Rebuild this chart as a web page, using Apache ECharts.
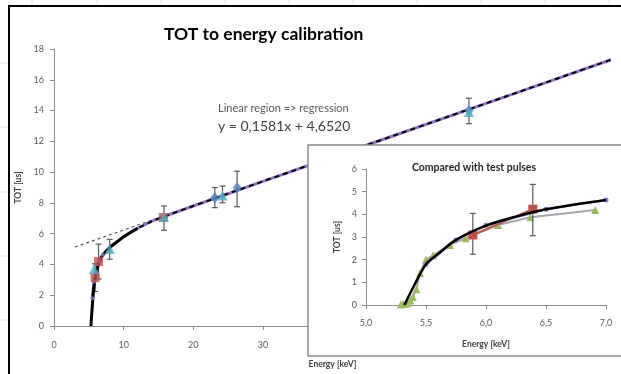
<!DOCTYPE html>
<html><head><meta charset="utf-8">
<script src="https://cdn.jsdelivr.net/npm/echarts@6/dist/echarts.min.js"></script>
<style>html,body{margin:0;padding:0;background:#fff}#c{width:621px;height:374px}</style>
</head><body><div id="c"></div>
<script>
// ---- main chart data ----
const mainFit = [[5.3,0],[5.5,1.3],[5.7,2.4],[5.9,3.05],[6.2,3.7],[6.5,4.2],[7,4.6],[8,5.1],[9,5.45],[10,5.8],[12,6.35]];
const mainModel = [[5.5,1.8],[5.75,2.87],[6,3.5],[6.5,4.2],[7,4.63],[8,5.1],[10,5.8],[12,6.35],[14,6.8],[16,7.15],[20,7.8],[30,9.4],[40,10.98],[50,12.56],[60,14.14],[70,15.72],[80,17.3]];
const modelDots = [[5.5,1.8],[5.75,2.87],[6,3.5],[6.5,4.2],[7,4.63]];
const regression = [[3,5.13],[80,17.3]];
const redMain = [[5.9,3.14],[6.4,4.19],[15.7,7.05]];
const redMainErr = [[5.9,2.24,4.04],[6.4,3.06,5.32]];
const cyanMain = [[5.75,3.7],[8.0,5.0],[15.8,7.1],[24.2,8.48],[59.6,13.9]];
const cyanMainErr = [[8.0,4.34,5.63],[15.8,6.22,7.8],[24.2,8.01,9.09],[59.6,13.15,14.8]];
const blueMain = [[23.1,8.33],[26.3,8.98],[59.6,14.0]];
const blueMainErr = [[23.1,7.69,9.0],[26.3,7.75,10.06]];
// ---- inset data ----
const insetFit = [[5.32,0],[5.4,0.85],[5.5,1.8],[5.6,2.25],[5.75,2.87],[6,3.5],[6.25,3.9],[6.5,4.22],[7,4.63]];
const insetModel = [[5.5,1.8],[5.75,2.87],[6,3.52],[6.5,4.22],[7,4.63]];
const testPulses = [[5.29,0.02],[5.31,0.04],[5.33,0.06],[5.35,0.1],[5.37,0.2],[5.39,0.35],[5.42,0.7],[5.45,1.4],[5.5,2.0],[5.56,2.2],[5.7,2.65],[5.83,2.95],[6.1,3.53],[6.37,3.87],[6.91,4.19]];
const redInset = [[5.89,3.09],[6.39,4.23]];
const redInsetErr = [[5.89,2.24,4.04],[6.39,3.06,5.32]];

const FONT = 'Lato, "Open Sans", sans-serif';
const RED='#c0504d', CYAN='#4bacc6', BLUE='#4f81bd', GREEN='#9bbb59', PURPLE='#9272c8';

function errSeries(data, xi, yi, z){
  return {type:'custom', xAxisIndex:xi, yAxisIndex:yi, z:z, data:data, silent:true,
    encode:{x:0,y:[1,2]},
    renderItem:function(params, api){
      const x=api.value(0), lo=api.value(1), hi=api.value(2);
      const a=api.coord([x,lo]), b=api.coord([x,hi]);
      const w=3, st={stroke:'#595959', lineWidth:1.2};
      return {type:'group', children:[
        {type:'line', shape:{x1:a[0],y1:a[1],x2:b[0],y2:b[1]}, style:st},
        {type:'line', shape:{x1:a[0]-w,y1:a[1],x2:a[0]+w,y2:a[1]}, style:st},
        {type:'line', shape:{x1:b[0]-w,y1:b[1],x2:b[0]+w,y2:b[1]}, style:st}
      ]};
    }};
}
const axisLbl = {color:'#595959', fontSize:9, fontFamily:FONT};
const axLine = {lineStyle:{color:'#8c8c8c', width:1}};
const axTick = {show:true, length:4, lineStyle:{color:'#8c8c8c'}};

const bgLines = [];
[32,97,161,225,289,353,417,481,545,609].forEach(x=>bgLines.push({type:'line', shape:{x1:x,y1:0,x2:x,y2:5}, style:{stroke:'#dce3f0',lineWidth:1}}));
[63,127,192,256,320].forEach(y=>bgLines.push({type:'line', shape:{x1:0,y1:y,x2:8,y2:y}, style:{stroke:'#dce3f0',lineWidth:1}}));

const chart = echarts.init(document.getElementById('c'), null, {renderer:'canvas'});
chart.setOption({
  animation:false,
  backgroundColor:'#fff',
  textStyle:{fontFamily:FONT},
  title:[
    {text:'TOT to energy calibration', left:159, top:20, textStyle:{fontSize:17.5, fontWeight:'bold', color:'#000', fontFamily:FONT}},
    {text:'Compared with test pulses', left:469, textAlign:'center', top:157, z:12, textStyle:{fontSize:10.5, fontWeight:'bold', color:'#262626', fontFamily:FONT}}
  ],
  grid:[
    {left:54, top:49, right:10, bottom:47},
    {left:366, top:169, right:15, bottom:69, z:10}
  ],
  xAxis:[
    {type:'value', gridIndex:0, min:0, max:80, interval:10, axisLine:axLine, axisTick:axTick,
     axisLabel:Object.assign({margin:15}, axisLbl), splitLine:{show:false},
     name:'Energy [keV]', nameLocation:'middle', nameGap:34,
     nameTextStyle:{fontSize:8.5, fontWeight:'bold', color:'#404040', fontFamily:FONT}},
    {type:'value', gridIndex:1, min:5, max:7, interval:0.5, z:10, axisLine:axLine, axisTick:axTick,
     axisLabel:Object.assign({margin:14, formatter:v=>v.toFixed(1).replace('.',',')}, axisLbl), splitLine:{show:false},
     name:'Energy [keV]', nameLocation:'middle', nameGap:35,
     nameTextStyle:{fontSize:8.5, fontWeight:'bold', color:'#404040', fontFamily:FONT}}
  ],
  yAxis:[
    {type:'value', gridIndex:0, min:0, max:18, interval:2, axisLine:Object.assign({show:true},axLine), axisTick:axTick,
     axisLabel:Object.assign({margin:10}, axisLbl), splitLine:{show:false},
     name:'TOT [us]', nameLocation:'middle', nameGap:31, nameRotate:90,
     nameTextStyle:{fontSize:8.5, fontWeight:'bold', color:'#404040', fontFamily:FONT}},
    {type:'value', gridIndex:1, min:0, max:6, interval:1, z:10, axisLine:Object.assign({show:true},axLine), axisTick:axTick,
     axisLabel:Object.assign({margin:9}, axisLbl), splitLine:{show:false},
     name:'TOT [us]', nameLocation:'middle', nameGap:24, nameRotate:90,
     nameTextStyle:{fontSize:8.5, fontWeight:'bold', color:'#404040', fontFamily:FONT}}
  ],
  graphic:{elements:[].concat(bgLines, [
    {type:'polyline', z:1, shape:{points:[[9,380],[9,6],[630,6]]}, style:{stroke:'#000', lineWidth:2, fill:null}},
    {type:'text', left:218, top:103, z:3, style:{text:'Linear region => regression', fontSize:11, fill:'#595959', fontFamily:FONT}},
    {type:'text', left:218, top:119, z:3, style:{text:'y = 0,1581x + 4,6520', fontSize:14, fill:'#404040', fontFamily:FONT}},
    {type:'rect', z:5, shape:{x:308, y:145, width:330, height:211}, style:{fill:'#fff', stroke:'#8c8c8c', lineWidth:1.5}}
  ])},
  series:[
    {type:'line', xAxisIndex:0, yAxisIndex:0, data:regression, showSymbol:false, z:2,
     lineStyle:{color:'#595959', width:1.2, type:[3,3]}},
    {type:'line', xAxisIndex:0, yAxisIndex:0, data:mainModel, showSymbol:false, z:2,
     lineStyle:{color:PURPLE, width:3}},
    {type:'line', xAxisIndex:0, yAxisIndex:0, data:mainFit, showSymbol:false, z:3, smooth:0.3,
     lineStyle:{color:'#000', width:3}},
    {type:'line', xAxisIndex:0, yAxisIndex:0, data:mainModel.slice(5), showSymbol:false, z:3,
     lineStyle:{color:'#000', width:2, type:[5,4]}},
    {type:'scatter', xAxisIndex:0, yAxisIndex:0, data:modelDots, symbol:'circle', symbolSize:4, z:3, itemStyle:{color:PURPLE}},
    errSeries(redMainErr,0,0,2),
    errSeries(cyanMainErr,0,0,2),
    errSeries(blueMainErr,0,0,2),
    {type:'scatter', xAxisIndex:0, yAxisIndex:0, data:redMain, symbol:'rect', symbolSize:9, z:4, itemStyle:{color:RED}},
    {type:'scatter', xAxisIndex:0, yAxisIndex:0, data:blueMain, symbol:'diamond', symbolSize:[9,11], z:4, itemStyle:{color:BLUE}},
    {type:'scatter', xAxisIndex:0, yAxisIndex:0, data:cyanMain, symbol:'triangle', symbolSize:10, z:4, itemStyle:{color:CYAN}},
    // inset
    {type:'line', xAxisIndex:1, yAxisIndex:1, data:testPulses, symbol:'triangle', symbolSize:8, z:10,
     lineStyle:{color:'#a6a6a6', width:2}, itemStyle:{color:GREEN}},
    {type:'line', xAxisIndex:1, yAxisIndex:1, data:redInset, symbol:'rect', symbolSize:9, z:11,
     lineStyle:{color:RED, width:2}, itemStyle:{color:RED}},
    errSeries(redInsetErr,1,1,11),
    {type:'line', xAxisIndex:1, yAxisIndex:1, data:insetModel, symbol:'circle', symbolSize:5, z:12,
     lineStyle:{color:PURPLE, width:2}, itemStyle:{color:PURPLE}},
    {type:'line', xAxisIndex:1, yAxisIndex:1, data:insetFit, showSymbol:false, smooth:0.3, z:13,
     lineStyle:{color:'#000', width:2.5}}
  ]
});
</script></body></html>
